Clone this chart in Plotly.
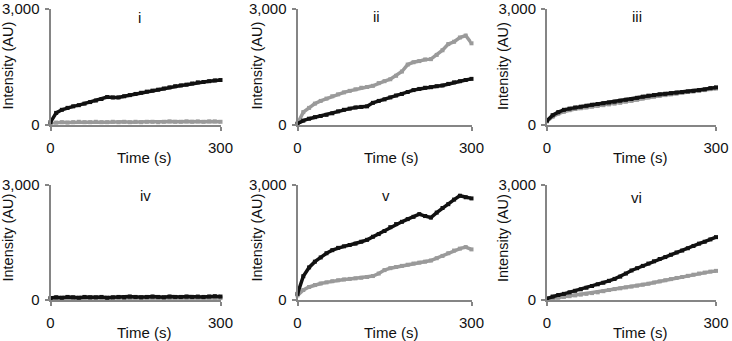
import plotly.graph_objects as go

time_s = [0, 10, 20, 30, 40, 50, 60, 70, 80, 90, 100, 110, 120, 130, 140, 150,
          160, 170, 180, 190, 200, 210, 220, 230, 240, 250, 260, 270, 280, 290, 300]

panel_labels = ["i", "ii", "iii", "iv", "v", "vi"]

i_black = [60, 300, 380, 430, 470, 500, 540, 580, 620, 660, 710, 700, 700, 730, 760, 790,
           820, 850, 875, 900, 930, 960, 990, 1010, 1030, 1060, 1090, 1100, 1120, 1140, 1150]
i_gray = [20, 50, 60, 50, 60, 70, 60, 60, 70, 60, 60, 70, 60, 70, 60, 70,
          60, 70, 70, 60, 70, 80, 70, 70, 80, 70, 80, 70, 80, 80, 70]

ii_black = [20, 100, 150, 190, 220, 250, 290, 340, 380, 410, 440, 455, 470, 560, 610, 650,
            700, 750, 790, 840, 890, 920, 950, 965, 990, 1010, 1050, 1090, 1120, 1150, 1180]
ii_gray = [20, 320, 430, 540, 610, 670, 730, 780, 830, 870, 910, 950, 970, 1000, 1070, 1120,
           1170, 1260, 1370, 1550, 1610, 1640, 1680, 1690, 1800, 1920, 2080, 2140, 2250, 2300, 2100]

iii_black = [100, 240, 320, 380, 410, 440, 460, 485, 510, 530, 550, 570, 590, 615, 640, 660,
             690, 720, 745, 760, 780, 795, 810, 825, 840, 855, 870, 890, 910, 940, 960]
iii_gray = [80, 200, 280, 330, 370, 400, 420, 440, 460, 480, 500, 520, 540, 560, 590, 610,
            640, 670, 700, 720, 740, 760, 780, 800, 820, 840, 855, 870, 890, 915, 930]

iv_black = [50, 70, 60, 80, 70, 60, 80, 70, 70, 80, 60, 70, 80, 70, 90, 80,
            70, 80, 90, 80, 70, 90, 80, 80, 90, 80, 90, 80, 90, 100, 90]
iv_gray = [30, 40, 40, 50, 40, 50, 40, 50, 50, 40, 50, 50, 40, 50, 50, 60,
           50, 50, 60, 50, 60, 50, 60, 60, 50, 60, 60, 50, 60, 60, 50]

v_black = [160, 620, 850, 1000, 1110, 1220, 1300, 1360, 1400, 1435, 1470, 1520, 1570, 1650, 1720, 1800,
           1900, 1980, 2040, 2110, 2170, 2240, 2190, 2150, 2280, 2400, 2500, 2620, 2720, 2680, 2650]
v_gray = [120, 260, 340, 390, 430, 460, 490, 515, 535, 550, 565, 580, 600, 625, 690, 780,
          830, 860, 890, 920, 950, 975, 1000, 1030, 1090, 1150, 1220, 1290, 1340, 1380, 1320]

vi_black = [40, 90, 130, 160, 200, 240, 280, 320, 365, 410, 450, 500, 550, 610, 690, 770,
            830, 890, 950, 1010, 1070, 1120, 1180, 1240, 1290, 1350, 1410, 1470, 1520, 1580, 1640]
vi_gray = [20, 40, 60, 80, 100, 120, 140, 160, 180, 200, 230, 260, 285, 305, 330, 350,
           375, 400, 425, 455, 485, 515, 545, 575, 600, 630, 660, 690, 715, 740, 760]

black_series = [i_black, ii_black, iii_black, iv_black, v_black, vi_black]
gray_series = [i_gray, ii_gray, iii_gray, iv_gray, v_gray, vi_gray]

y_tick_vals = [0, 3000]
y_tick_text = ["0", "3,000"]
x_tick_vals = [0, 300]
x_tick_text = ["0", "300"]

W, H = 732, 341
col_px = [(50.5, 220.5), (297.5, 471.5), (547, 716)]
row_px = [(8.5, 124.5), (185, 300)]  # (top of 3000, zero line)
xtitle_px = [144, 391, 640]
ytitle_px = [7.5, 256.5, 503]
xtitle_y = [157, 332]
ytitle_y = [66, 238]
label_px = [(139, 18), (376, 17), (637, 17), (145, 195), (386, 195), (636, 197)]

FONT = "Liberation Sans, Arial, sans-serif"
AXCOL = "#858585"

fig = go.Figure()
layout = dict(
    width=W, height=H,
    margin=dict(l=0, r=0, t=0, b=0),
    paper_bgcolor="white", plot_bgcolor="white",
    showlegend=False,
    font=dict(family=FONT, size=15, color="#111"),
)
annotations = []
for k in range(6):
    r, c = divmod(k, 3)
    idx = "" if k == 0 else str(k + 1)
    xa, ya = "x" + idx, "y" + idx
    x0, x1 = col_px[c]
    ytop, y0 = row_px[r]
    layout["xaxis" + idx] = dict(
        domain=[x0 / W, x1 / W], range=[0, 300], anchor=ya,
        showline=True, linecolor=AXCOL, linewidth=2, showgrid=False, zeroline=False,
        tickmode="array", tickvals=x_tick_vals, ticktext=x_tick_text,
        ticks="outside", ticklen=4, tickwidth=1.5, tickcolor=AXCOL,
        tickfont=dict(size=15, color="#111", family=FONT), ticklabelstandoff=4,
        ticklabeloverflow="allow", automargin=False,
    )
    layout["yaxis" + idx] = dict(
        domain=[1 - y0 / H, 1 - ytop / H], range=[0, 3000], anchor=xa,
        showline=True, linecolor=AXCOL, linewidth=2, showgrid=False, zeroline=False,
        tickmode="array", tickvals=y_tick_vals, ticktext=y_tick_text,
        ticks="outside", ticklen=4, tickwidth=1.5, tickcolor=AXCOL,
        tickfont=dict(size=15, color="#111", family=FONT), ticklabelstandoff=2,
        ticklabeloverflow="allow", automargin=False,
    )
    for series, color in ((gray_series[k], "#9a9a9a"), (black_series[k], "#111111")):
        fig.add_trace(go.Scatter(
            x=time_s, y=series, xaxis=xa, yaxis=ya, mode="lines+markers",
            line=dict(color=color, width=3.5),
            marker=dict(symbol="square", size=4, color=color),
            cliponaxis=False, hoverinfo="skip",
        ))
    annotations.append(dict(
        x=xtitle_px[c] / W, y=1 - xtitle_y[r] / H, xref="paper", yref="paper",
        text="Time (s)", showarrow=False, xanchor="center", yanchor="middle",
        font=dict(size=15, color="#111", family=FONT)))
    annotations.append(dict(
        x=ytitle_px[c] / W, y=1 - ytitle_y[r] / H, xref="paper", yref="paper",
        text="Intensity (AU)", textangle=-90, showarrow=False,
        xanchor="center", yanchor="middle",
        font=dict(size=14.5, color="#111", family=FONT)))
    lx, ly = label_px[k]
    annotations.append(dict(
        x=lx / W, y=1 - ly / H, xref="paper", yref="paper",
        text=panel_labels[k], showarrow=False, xanchor="center", yanchor="middle",
        font=dict(size=15, color="#111", family=FONT)))

layout["annotations"] = annotations
fig.update_layout(**layout)
fig.write_html(
    "out.html",
    config={"displayModeBar": False},
    post_script="document.body.style.margin='0';document.body.style.overflow='hidden';",
)
